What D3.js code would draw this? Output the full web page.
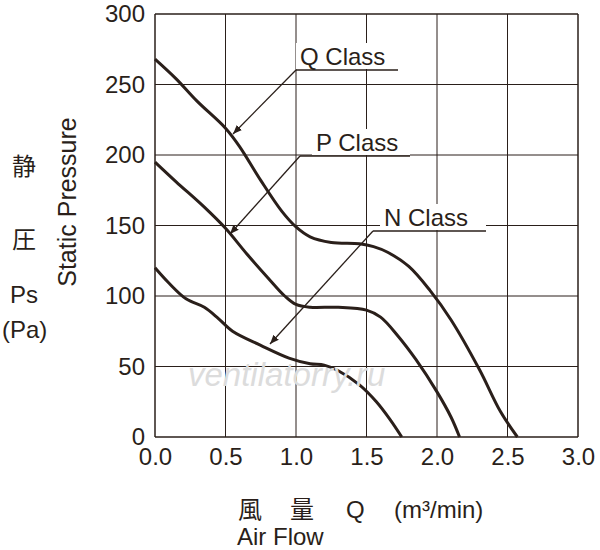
<!DOCTYPE html><html><head><meta charset="utf-8"><script src="https://cdn.jsdelivr.net/npm/d3@7"></script>
<style>body{margin:0;background:#fff}text{font-family:"Liberation Sans",Arial,sans-serif;fill:#2a1f1a}</style></head><body>
<svg id="c" width="600" height="550"></svg>
<script>
const xTicks=[0,0.5,1.0,1.5,2.0,2.5,3.0];
const yTicks=[0,50,100,150,200,250,300];
const qClass=[[0,268],[0.15,254],[0.3,238],[0.5,219],[0.6,206],[0.75,182],[0.9,160],[1.0,149],[1.1,142],[1.25,138],[1.45,137],[1.55,135],[1.65,131],[1.8,121],[1.95,104],[2.1,83],[2.3,48],[2.45,18],[2.57,0]];
const pClass=[[0,195],[0.15,181],[0.35,163],[0.5,148],[0.65,130],[0.8,113],[0.92,100],[1.0,94],[1.1,92],[1.3,92],[1.5,90],[1.6,85],[1.72,72],[1.85,55],[2.0,32],[2.1,14],[2.16,0]];
const nClass=[[0,120],[0.1,109],[0.22,98],[0.35,92],[0.45,84],[0.55,75],[0.75,65],[0.95,56],[1.1,52],[1.2,51],[1.3,47],[1.45,37],[1.57,25],[1.67,12],[1.75,0]];
const labels=[{t:"Q Class",x:300,y:65,lx0:296,lx1:398,ly:70,ax:233,ay:134},
{t:"P Class",x:316,y:151,lx0:300,lx1:410,ly:156,ax:230,ay:234},
{t:"N Class",x:384,y:226,lx0:373,lx1:486,ly:231,ax:270,ay:344}];
const svg=d3.select("#c");
const x=d3.scaleLinear().domain([0,3]).range([155,578]);
const y=d3.scaleLinear().domain([0,300]).range([437,14]);
const col="#2a1f1a";
const g=svg.append("g");
xTicks.forEach(v=>g.append("line").attr("x1",x(v)).attr("x2",x(v)).attr("y1",y(0)).attr("y2",y(300)).attr("stroke",col).attr("stroke-width",(v==0||v==3)?1.5:1));
yTicks.forEach(v=>g.append("line").attr("y1",y(v)).attr("y2",y(v)).attr("x1",x(0)).attr("x2",x(3)).attr("stroke",col).attr("stroke-width",(v==0||v==300)?1.5:1));
const xa=svg.append("g").attr("transform",`translate(0,${y(0)})`).call(d3.axisBottom(x).tickValues(xTicks).tickFormat(d3.format(".1f")).tickSize(0).tickPadding(8));
const ya=svg.append("g").attr("transform",`translate(${x(0)},0)`).call(d3.axisLeft(y).tickValues(yTicks).tickSize(0).tickPadding(10));
[xa,ya].forEach(a=>{a.select(".domain").remove();a.selectAll("text").attr("font-size",24).attr("font-family","Liberation Sans,Arial").attr("fill",col);});
xa.selectAll("text").attr("dy","0.85em");
const line=d3.line().x(d=>x(d[0])).y(d=>y(d[1])).curve(d3.curveCatmullRom);
[qClass,pClass,nClass].forEach(s=>svg.append("path").attr("d",line(s)).attr("fill","none").attr("stroke",col).attr("stroke-width",3));
svg.append("defs").append("marker").attr("id","ar").attr("viewBox","0 0 10 10").attr("refX",10).attr("refY",5).attr("markerWidth",7).attr("markerHeight",7).attr("orient","auto").append("path").attr("d","M0,1L10,5L0,9z").attr("fill",col);
labels.forEach(l=>{
 svg.append("rect").attr("x",l.x-4).attr("y",l.y-22).attr("width",l.lx1-l.x+4).attr("height",26).attr("fill","#fff");
 svg.append("text").attr("x",l.x).attr("y",l.y).attr("font-size",24).text(l.t);
 svg.append("line").attr("x1",l.lx0).attr("x2",l.lx1).attr("y1",l.ly).attr("y2",l.ly).attr("stroke",col).attr("stroke-width",1.3);
 svg.append("line").attr("x1",l.lx0).attr("y1",l.ly).attr("x2",l.ax).attr("y2",l.ay).attr("stroke",col).attr("stroke-width",1.3).attr("marker-end","url(#ar)");
});
svg.append("text").attr("x",188).attr("y",386).attr("font-size",33).attr("font-style","italic").style("fill","#dcdcdc").text("ventilatorry.ru");
const L=[["静",12,175,"Noto Sans CJK JP"],["圧",12,248,"Noto Sans CJK JP"],["Ps",10,303,null],["(Pa)",2,338,null]];
L.forEach(a=>{const t=svg.append("text").attr("x",a[1]).attr("y",a[2]).attr("font-size",24).text(a[0]);if(a[3])t.style("font-family",a[3]);});
svg.append("text").attr("transform","translate(76,202) rotate(-90)").attr("text-anchor","middle").attr("font-size",25).text("Static Pressure");
svg.append("text").attr("x",238).attr("y",518).attr("font-size",24).style("font-family","Noto Sans CJK JP").text("風");
svg.append("text").attr("x",290).attr("y",518).attr("font-size",24).style("font-family","Noto Sans CJK JP").text("量");
svg.append("text").attr("x",346).attr("y",518).attr("font-size",24).text("Q");
svg.append("text").attr("x",394).attr("y",518).attr("font-size",24).text("(m³/min)");
svg.append("text").attr("x",237).attr("y",545).attr("font-size",24).text("Air Flow");
</script></body></html>
